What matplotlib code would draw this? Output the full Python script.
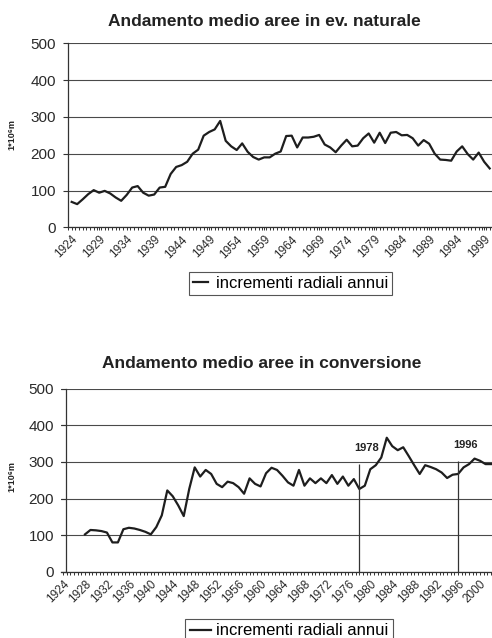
import matplotlib
matplotlib.use("Agg")
import matplotlib.pyplot as plt
from matplotlib.ticker import MultipleLocator

plt.rcParams['font.family'] = ['Liberation Sans', 'DejaVu Sans']

# --- data ---
years_nat = list(range(1924, 2001))
incr_nat = [69, 63, 76, 90, 101, 94, 99, 92, 81, 72,
            88, 108, 112, 94, 86, 89, 108, 110, 145, 164,
            169, 178, 200, 211, 249, 259, 266, 289, 235, 220,
            210, 228, 205, 191, 184, 190, 190, 200, 206, 248,
            249, 217, 244, 244, 246, 251, 225, 217, 204, 222,
            238, 220, 222, 242, 255, 230, 257, 229, 257, 259,
            250, 251, 242, 222, 237, 227, 200, 184, 183, 181,
            206, 220, 199, 184, 203, 178, 160]

years_conv = list(range(1928, 2003))
incr_conv = [102, 114, 113, 111, 107, 80, 80, 116, 120, 118,
             114, 109, 102, 122, 154, 222, 206, 181, 152, 226,
             285, 260, 278, 267, 240, 231, 246, 242, 231, 213,
             255, 240, 233, 269, 284, 278, 262, 244, 235, 278,
             235, 255, 242, 255, 242, 264, 240, 260, 235, 253,
             226, 235, 280, 291, 312, 366, 343, 332, 340, 316,
             291, 267, 291, 286, 280, 271, 256, 265, 267, 285,
             294, 309, 303, 294, 294]

nat_ticks = list(range(1924, 2000, 5))
conv_ticks = list(range(1924, 2001, 4))
marker_years = [1978, 1996]
marker_tops = [295, 303]

yticks = [0, 100, 200, 300, 400, 500]
series_label = 'incrementi radiali annui'

W, H = 492, 638
fig = plt.figure(figsize=(W / 100, H / 100), dpi=100)

line_col = '#1e1e1e'
grid_col = '#4a4a4a'


def style_axes(ax, xticks):
    ax.set_ylim(0, 500)
    ax.set_yticks(yticks)
    ax.set_xticks(xticks)
    ax.xaxis.set_minor_locator(MultipleLocator(2 / 3))
    ax.yaxis.grid(True, color=grid_col, linewidth=0.8)
    ax.set_axisbelow(True)
    for s in ['top', 'right']:
        ax.spines[s].set_visible(False)
    for s in ['left', 'bottom']:
        ax.spines[s].set_color('#333333')
        ax.spines[s].set_linewidth(0.9)
    ax.tick_params(axis='y', length=3.5, width=0.8, color='#333333',
                   labelsize=11, labelcolor='#2a2a2a', pad=5)
    ax.tick_params(axis='x', which='both', length=2.5, width=0.7,
                   color='#333333', labelsize=8.5, labelcolor='#2a2a2a', pad=2)
    for lab in ax.get_xticklabels():
        lab.set_rotation(45)
        lab.set_ha('right')
        lab.set_va('top')
        lab.set_rotation_mode('anchor')


# top chart: natural evolution
ax1 = fig.add_axes([68 / W, 1 - 227.3 / H, 1 - 68 / W, (227.3 - 43.3) / H])
ax1.plot(years_nat, incr_nat, color=line_col, linewidth=1.6, label=series_label)
ax1.set_xlim(1923.33, 2000.42)
style_axes(ax1, nat_ticks)
fig.text(264 / W, 1 - 22 / H, 'Andamento medio aree in ev. naturale',
         ha='center', va='center', fontsize=12.5, fontweight='bold', color='#222222')
fig.text(12 / W, 1 - 135 / H, '1*10⁶m', rotation=90, ha='center', va='center',
         fontsize=6.5, fontweight='bold', color='#222222')
leg1 = ax1.legend(loc='upper center', bbox_to_anchor=(290.5 / W, 1 - 271.7 / H),
                  bbox_transform=fig.transFigure, fontsize=12, frameon=True,
                  fancybox=False, framealpha=1, edgecolor='#555555',
                  handlelength=0.9, handletextpad=0.5, borderpad=0.25,
                  borderaxespad=0)
leg1.get_frame().set_linewidth(0.8)

# bottom chart: conversion areas
ax2 = fig.add_axes([61 / W, 1 - 571.7 / H, 1 - 61 / W, (571.7 - 388.7) / H])
ax2.plot(years_conv, incr_conv, color=line_col, linewidth=1.6, label=series_label)
ax2.vlines(marker_years, 0, marker_tops, color='#333333', linewidth=0.9)
for yr, top in zip(marker_years, marker_tops):
    ax2.text(yr + 1.3, top + 42, str(yr), ha='center', va='center',
             fontsize=8, fontweight='bold', color='#222222')
ax2.set_xlim(1923.63, 2002.18)
ax2.spines['left'].set_position(('data', 1924.54))
style_axes(ax2, conv_ticks)
fig.text(262 / W, 1 - 364 / H, 'Andamento medio aree in conversione',
         ha='center', va='center', fontsize=12.5, fontweight='bold', color='#222222')
fig.text(12 / W, 1 - 477 / H, '1*10⁶m', rotation=90, ha='center', va='center',
         fontsize=6.5, fontweight='bold', color='#222222')
leg2 = ax2.legend(loc='upper center', bbox_to_anchor=(289 / W, 1 - 619.3 / H),
                  bbox_transform=fig.transFigure, fontsize=12, frameon=True,
                  fancybox=False, framealpha=1, edgecolor='#555555',
                  handlelength=1.3, handletextpad=0.3, borderpad=0.25,
                  borderaxespad=0)
leg2.get_frame().set_linewidth(0.8)

fig.savefig('out.png', dpi=100)
